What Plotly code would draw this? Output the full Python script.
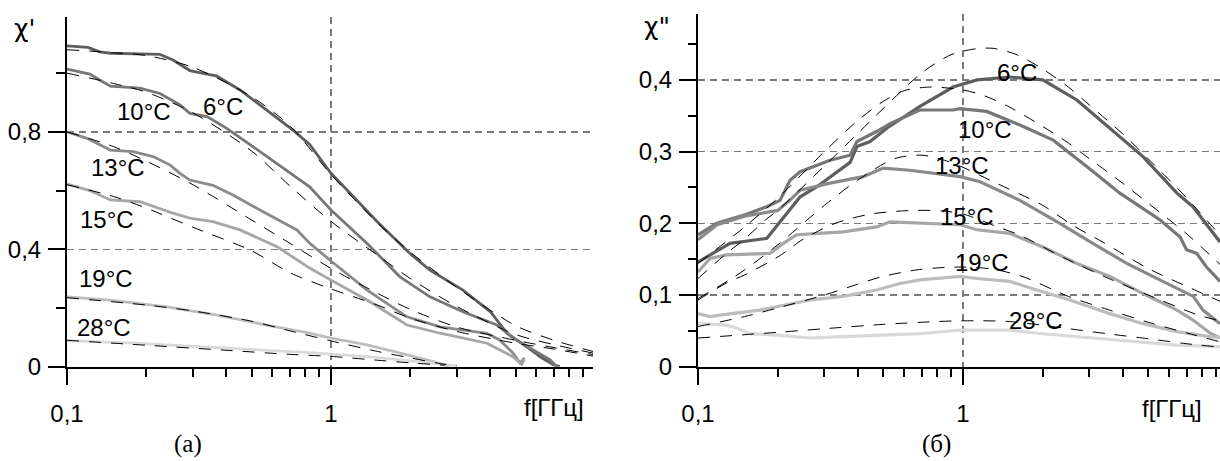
import math
import plotly.graph_objects as go

# ---------------- data: panel (a) chi' ----------------
TEMPS = ["6°C", "10°C", "13°C", "15°C", "19°C", "28°C"]

A6_F = [0.1, 0.12, 0.133, 0.146, 0.225, 0.252, 0.292, 0.37, 0.452, 0.573, 0.72, 0.83, 1.0, 1.25, 1.5, 2.0, 2.37, 3.16, 4.02, 4.25, 4.64, 5.51, 6.2, 6.98, 7.36]
A6_V = [1.093, 1.088, 1.073, 1.068, 1.064, 1.045, 1.009, 0.99, 0.943, 0.874, 0.805, 0.757, 0.659, 0.568, 0.493, 0.384, 0.329, 0.261, 0.187, 0.159, 0.114, 0.068, 0.034, 0.006, 0.0]
A10_F = [0.1, 0.122, 0.133, 0.146, 0.189, 0.225, 0.268, 0.292, 0.339, 0.403, 0.506, 0.68, 0.83, 1.0, 1.37, 1.82, 2.37, 3.16, 4.25, 4.89, 5.67, 6.76, 7.18]
A10_V = [1.014, 0.997, 0.977, 0.956, 0.949, 0.931, 0.892, 0.863, 0.852, 0.812, 0.75, 0.67, 0.613, 0.534, 0.42, 0.307, 0.238, 0.187, 0.142, 0.098, 0.064, 0.023, 0.0]
A13_F = [0.1, 0.119, 0.146, 0.178, 0.212, 0.246, 0.268, 0.292, 0.357, 0.425, 0.538, 0.743, 0.83, 1.0, 1.37, 1.94, 2.59, 3.9, 4.35, 4.89, 5.2, 5.4]
A13_V = [0.80, 0.778, 0.738, 0.733, 0.716, 0.687, 0.659, 0.636, 0.618, 0.585, 0.534, 0.466, 0.421, 0.36, 0.261, 0.17, 0.136, 0.114, 0.091, 0.047, 0.012, 0.03]
A15_F = [0.1, 0.122, 0.146, 0.189, 0.252, 0.292, 0.357, 0.452, 0.625, 0.83, 1.0, 1.37, 1.94, 2.59, 3.9, 4.89, 5.28, 5.4]
A15_V = [0.622, 0.60, 0.568, 0.562, 0.523, 0.506, 0.494, 0.466, 0.409, 0.336, 0.295, 0.227, 0.142, 0.114, 0.08, 0.034, 0.008, 0.026]
A19_F = [0.1, 0.146, 0.239, 0.37, 0.57, 0.83, 1.0, 1.37, 1.83, 2.44, 2.8]
A19_V = [0.238, 0.227, 0.204, 0.176, 0.142, 0.114, 0.097, 0.074, 0.046, 0.017, 0.0]
A28_F = [0.1, 0.178, 0.319, 0.57, 0.83, 1.0, 1.37, 1.83, 2.44, 2.74, 3.0]
A28_V = [0.089, 0.08, 0.068, 0.057, 0.048, 0.043, 0.034, 0.023, 0.011, 0.006, 0.003]

# fitted curves, panel (a)
AF_F = [0.1, 0.15, 0.2, 0.3, 0.5, 0.7, 1.0, 1.5, 2.0, 3.0, 5.0, 7.0, 10.0]
AF6 = [1.08, 1.07, 1.06, 1.02, 0.92, 0.82, 0.655, 0.49, 0.39, 0.27, 0.14, 0.09, 0.05]
AF10 = [1.0, 0.965, 0.935, 0.865, 0.735, 0.615, 0.495, 0.38, 0.30, 0.205, 0.11, 0.075, 0.045]
AF13 = [0.80, 0.75, 0.70, 0.62, 0.50, 0.42, 0.335, 0.25, 0.195, 0.135, 0.09, 0.065, 0.04]
AF15 = [0.62, 0.58, 0.54, 0.475, 0.395, 0.32, 0.265, 0.21, 0.165, 0.12, 0.08, 0.06, 0.035]
AF19_F = [0.1, 0.2, 0.3, 0.5, 0.7, 1.0, 1.5, 2.0, 2.5, 3.0]
AF19 = [0.235, 0.21, 0.19, 0.155, 0.122, 0.088, 0.052, 0.03, 0.013, 0.003]
AF28_F = [0.1, 0.2, 0.4, 0.7, 1.0, 1.5, 2.0, 2.7]
AF28 = [0.09, 0.073, 0.056, 0.042, 0.035, 0.022, 0.013, 0.005]

# ---------------- data: panel (б) chi'' ----------------
B6_F = [0.1, 0.132, 0.182, 0.2165, 0.243, 0.281, 0.323, 0.375, 0.398, 0.446, 0.517, 0.688, 0.917, 1.13, 1.5, 2.0, 2.69, 3.59, 4.78, 6.42, 7.38, 9.33]
B6_V = [0.146, 0.172, 0.179, 0.214, 0.237, 0.251, 0.267, 0.285, 0.307, 0.314, 0.333, 0.363, 0.39, 0.40, 0.404, 0.40, 0.372, 0.333, 0.293, 0.242, 0.223, 0.174]
B10_F = [0.1, 0.1177, 0.1505, 0.1817, 0.204, 0.2225, 0.243, 0.315, 0.375, 0.398, 0.472, 0.531, 0.688, 0.917, 0.975, 1.228, 1.64, 2.19, 2.94, 3.91, 5.53, 6.6, 6.98, 7.62, 8.3, 9.33]
B10_V = [0.184, 0.20, 0.212, 0.223, 0.232, 0.26, 0.272, 0.288, 0.295, 0.314, 0.328, 0.339, 0.358, 0.358, 0.36, 0.356, 0.337, 0.316, 0.279, 0.242, 0.205, 0.181, 0.163, 0.158, 0.139, 0.119]
B13_F = [0.1, 0.118, 0.15, 0.2, 0.222, 0.243, 0.315, 0.42, 0.5, 0.63, 0.975, 1.16, 1.64, 2.32, 3.09, 4.15, 5.53, 7.4, 8.05, 9.33]
B13_V = [0.177, 0.198, 0.21, 0.218, 0.232, 0.246, 0.256, 0.265, 0.277, 0.274, 0.265, 0.258, 0.232, 0.2, 0.172, 0.144, 0.121, 0.098, 0.079, 0.06]
B15_F = [0.1, 0.111, 0.128, 0.187, 0.21, 0.236, 0.353, 0.472, 0.531, 0.688, 0.975, 1.13, 1.5, 2.0, 2.69, 3.58, 4.78, 6.42, 7.38, 8.55, 9.33]
B15_V = [0.132, 0.151, 0.156, 0.158, 0.172, 0.184, 0.188, 0.195, 0.202, 0.20, 0.198, 0.191, 0.186, 0.167, 0.144, 0.126, 0.102, 0.079, 0.065, 0.047, 0.04]
B19_F = [0.1, 0.111, 0.121, 0.171, 0.265, 0.353, 0.472, 0.578, 0.688, 0.975, 1.13, 1.5, 1.9, 2.53, 3.58, 4.78, 6.42, 8.55, 9.33]
B19_V = [0.074, 0.07, 0.072, 0.079, 0.093, 0.098, 0.107, 0.116, 0.121, 0.126, 0.123, 0.119, 0.107, 0.093, 0.074, 0.06, 0.049, 0.042, 0.041]
B28_F = [0.1, 0.128, 0.14, 0.157, 0.198, 0.265, 0.353, 0.472, 0.688, 0.975, 1.5, 2.0, 2.69, 4.15, 6.42, 9.33]
B28_V = [0.06, 0.058, 0.054, 0.046, 0.044, 0.04, 0.042, 0.044, 0.046, 0.051, 0.051, 0.046, 0.042, 0.037, 0.03, 0.028]

# fitted curves, panel (б)
BF6_F = [0.1, 0.13, 0.15, 0.18, 0.2, 0.3, 0.4, 0.5, 0.7, 0.9, 1.1, 1.3, 1.6, 2.0, 2.5, 3.0, 4.0, 5.0, 7.0, 9.5]
BF6 = [0.123, 0.16, 0.178, 0.205, 0.218, 0.28, 0.325, 0.36, 0.41, 0.435, 0.443, 0.444, 0.435, 0.415, 0.39, 0.365, 0.325, 0.29, 0.235, 0.18]
BF10_F = [0.1, 0.15, 0.2, 0.3, 0.4, 0.5, 0.6, 0.75, 1.0, 1.2, 1.5, 2.0, 2.5, 3.0, 3.5, 4.0, 5.0, 7.0, 9.5]
BF10 = [0.144, 0.195, 0.235, 0.30, 0.343, 0.37, 0.385, 0.39, 0.386, 0.378, 0.362, 0.335, 0.312, 0.29, 0.272, 0.256, 0.228, 0.185, 0.14]
BF13_F = [0.1, 0.13, 0.15, 0.2, 0.3, 0.4, 0.55, 0.7, 0.85, 1.0, 1.3, 2.0, 2.6, 3.4, 5.0, 7.6, 9.5]
BF13 = [0.095, 0.12, 0.135, 0.17, 0.225, 0.26, 0.29, 0.295, 0.288, 0.278, 0.258, 0.225, 0.197, 0.173, 0.137, 0.106, 0.09]
BF15_F = [0.1, 0.13, 0.15, 0.2, 0.25, 0.33, 0.45, 0.65, 0.85, 1.0, 1.35, 1.65, 2.4, 3.6, 5.0, 7.6, 9.5]
BF15 = [0.093, 0.118, 0.128, 0.153, 0.178, 0.2, 0.213, 0.218, 0.217, 0.213, 0.195, 0.183, 0.152, 0.122, 0.1, 0.073, 0.063]
BF19_F = [0.1, 0.15, 0.2, 0.3, 0.4, 0.5, 0.7, 1.0, 1.3, 1.7, 2.5, 3.5, 5.0, 7.0, 9.5]
BF19 = [0.056, 0.07, 0.082, 0.1, 0.115, 0.126, 0.136, 0.139, 0.136, 0.125, 0.098, 0.08, 0.062, 0.047, 0.034]
BF28_F = [0.1, 0.2, 0.3, 0.5, 0.8, 1.0, 1.5, 2.5, 3.5, 5.0, 7.0, 9.5]
BF28 = [0.04, 0.048, 0.053, 0.059, 0.063, 0.064, 0.063, 0.053, 0.046, 0.039, 0.032, 0.027]

# label anchor points (frequency, value) for temperature texts
A_LABEL_F = [0.39, 0.196, 0.156, 0.142, 0.1406, 0.138]
A_LABEL_V = [0.888, 0.871, 0.68, 0.503, 0.299, 0.135]
B_LABEL_F = [1.6, 1.21, 0.99, 1.035, 1.18, 1.88]
B_LABEL_V = [0.411, 0.3315, 0.28, 0.21, 0.146, 0.064]

X_TICKS = [0.1, 1]
X_TICKTEXT = ["0,1", "1"]
A_Y_TICKS = [0, 0.4, 0.8]
A_Y_TICKTEXT = ["0", "0,4", "0,8"]
B_Y_TICKS = [0, 0.1, 0.2, 0.3, 0.4]
B_Y_TICKTEXT = ["0", "0,1", "0,2", "0,3", "0,4"]

# ---------------- styling ----------------
COLORS = ["#5e5e5e", "#777777", "#8a8a8a", "#a6a6a6", "#bdbdbd", "#d9d9d9"]
W, H = 1220, 461
FONT = "Liberation Sans, Arial, sans-serif"
SERIF = "Liberation Serif, Times New Roman, serif"
FS = 24


def px(x):
    return x / W


def py(y):
    return 1 - y / H


fig = go.Figure()

a_data = [(A6_F, A6_V), (A10_F, A10_V), (A13_F, A13_V), (A15_F, A15_V), (A19_F, A19_V), (A28_F, A28_V)]
a_fits = [(AF_F, AF6), (AF_F, AF10), (AF_F, AF13), (AF_F, AF15), (AF19_F, AF19), (AF28_F, AF28)]
b_data = [(B6_F, B6_V), (B10_F, B10_V), (B13_F, B13_V), (B15_F, B15_V), (B19_F, B19_V), (B28_F, B28_V)]
b_fits = [(BF6_F, BF6), (BF10_F, BF10), (BF13_F, BF13), (BF15_F, BF15), (BF19_F, BF19), (BF28_F, BF28)]

for (f, v), c, t in zip(a_data, COLORS, TEMPS):
    fig.add_trace(go.Scatter(x=f, y=v, mode="lines", name=t, xaxis="x", yaxis="y",
                             line=dict(color=c, width=2.8)))
for (f, v), c, t in zip(b_data, COLORS, TEMPS):
    fig.add_trace(go.Scatter(x=f, y=v, mode="lines", name=t, xaxis="x2", yaxis="y2",
                             line=dict(color=c, width=3.2)))
for (f, v) in a_fits:
    fig.add_trace(go.Scatter(x=f, y=v, mode="lines", xaxis="x", yaxis="y",
                             line=dict(color="black", width=1, dash="12px,10px", shape="spline", smoothing=0.8)))
for (f, v) in b_fits:
    fig.add_trace(go.Scatter(x=f, y=v, mode="lines", xaxis="x2", yaxis="y2",
                             line=dict(color="black", width=1, dash="12px,10px", shape="spline", smoothing=0.8)))

axis_common = dict(showline=True, linecolor="black", linewidth=2, ticks="outside",
                   tickwidth=2, tickcolor="black", zeroline=False, automargin=False,
                   showgrid=True, gridcolor="#7a7a7a", gridwidth=1.3, griddash="7px,5px",
                   tickfont=dict(family=FONT, size=FS, color="black"))

minor_x = [0.2, 0.3, 0.4, 0.5, 0.6, 0.7, 0.8, 0.9, 2, 3, 4, 5, 6, 7, 8, 9]

fig.update_layout(
    width=W, height=H, autosize=False,
    margin=dict(l=0, r=0, t=0, b=0, autoexpand=False),
    paper_bgcolor="white", plot_bgcolor="white",
    showlegend=False,
    xaxis=dict(axis_common, type="log", domain=[px(67), px(593)], range=[-1, 0.9924], anchor="y",
               tickvals=X_TICKS, ticktext=X_TICKTEXT, ticklen=16, ticklabelstandoff=8,
               minor=dict(ticks="outside", ticklen=8, tickwidth=2, tickcolor="black",
                          tickvals=minor_x, showgrid=False)),
    yaxis=dict(axis_common, domain=[py(366.7), py(17)], range=[0, 1.1915], anchor="x",
               tickvals=A_Y_TICKS, ticktext=A_Y_TICKTEXT, ticklen=17, ticklabelstandoff=2,
               minor=dict(ticks="outside", ticklen=9, tickwidth=2, tickcolor="black",
                          tickvals=[0.2, 0.6, 1.0], showgrid=False)),
    xaxis2=dict(axis_common, type="log", domain=[px(698), 1.0], range=[-1, 0.97], anchor="y2",
                tickvals=X_TICKS, ticktext=X_TICKTEXT, ticklen=16, ticklabelstandoff=8,
                minor=dict(ticks="outside", ticklen=8, tickwidth=2, tickcolor="black",
                           tickvals=minor_x, showgrid=False)),
    yaxis2=dict(axis_common, domain=[py(366.7), py(14)], range=[0, 0.4919], anchor="x2",
                tickvals=B_Y_TICKS, ticktext=B_Y_TICKTEXT, ticklen=17, ticklabelstandoff=2,
                minor=dict(ticks="outside", ticklen=8, tickwidth=2, tickcolor="black",
                           tickvals=[0.05, 0.15, 0.25, 0.35, 0.45], showgrid=False)),
)

ann = []
for t, f, v in zip(TEMPS, A_LABEL_F, A_LABEL_V):
    ann.append(dict(x=math.log10(f), y=v, xref="x", yref="y", text=t, showarrow=False,
                    xanchor="center", yanchor="middle", font=dict(family=FONT, size=FS, color="black")))
for t, f, v in zip(TEMPS, B_LABEL_F, B_LABEL_V):
    ann.append(dict(x=math.log10(f), y=v, xref="x2", yref="y2", text=t, showarrow=False,
                    xanchor="center", yanchor="middle", font=dict(family=FONT, size=FS, color="black")))

def paper_text(x, y, text, family=FONT, size=FS):
    return dict(x=px(x), y=py(y), xref="paper", yref="paper", text=text, showarrow=False,
                xanchor="center", yanchor="middle", font=dict(family=family, size=size, color="black"))

ann.append(paper_text(24, 29, "χ'", family="DejaVu Sans, sans-serif", size=25))
ann.append(paper_text(657, 27, "χ\"", family="DejaVu Sans, sans-serif", size=25))
ann.append(paper_text(554, 407, "f[ГГц]"))
ann.append(paper_text(1172, 408, "f[ГГц]"))
ann.append(paper_text(188, 444, "(a)", family=SERIF, size=25))
ann.append(paper_text(936, 444, "(б)", family=SERIF, size=25))

fig.update_layout(annotations=ann)

fig.write_html("out.html", config={"displayModeBar": False, "staticPlot": True},
               post_script="document.body.style.margin='0px';document.body.style.overflow='hidden';")
